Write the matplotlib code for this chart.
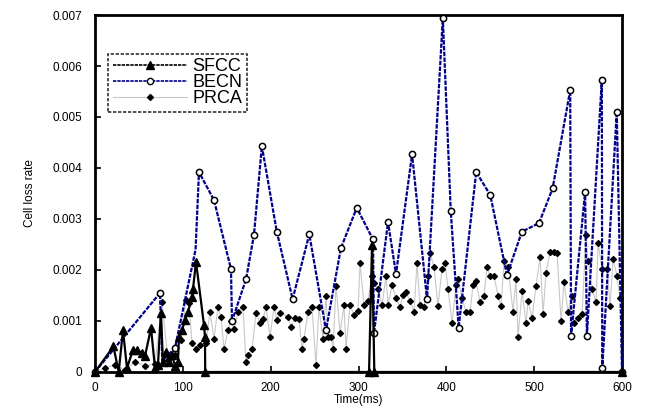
import matplotlib
matplotlib.use("Agg")
import matplotlib.pyplot as plt
from matplotlib.lines import Line2D

plt.rcParams['font.family'] = ['Liberation Sans', 'DejaVu Sans']

# SFCC
sfcc_t = [0, 21, 27, 31.9, 36.4, 43.3, 47.8, 53.5, 56.9, 63.8, 68.3, 71.7, 75.1, 77.4,
          80.8, 84.3, 87.7, 91.1, 94.5, 95.6, 99.1, 102.5, 105.9, 110.4, 111.6, 115.0,
          124.1, 125.2, 125.5, 312, 315.4, 318, 600]
sfcc_v = [0, 0.0005, 0, 0.00082, 0.00008, 0.00043, 0.00043, 0.00037, 0.00031, 0.00086,
          0.00008, 0.00014, 0.00116, 0.0002, 0.0004, 0.0002, 0.00033, 0.00012, 0.0002,
          0.00069, 0.00082, 0.00102, 0.00118, 0.00147, 0.00163, 0.00216, 0.00092, 0.00069,
          0, 0, 0.00249, 0, 0]

# BECN
becn_t = [0, 74.0, 76.6, 91.1, 114.5, 118.4, 135.5, 154.8, 156.0, 172.0, 181.0, 190.0,
          207.0, 225.0, 244.0, 263.0, 280.0, 298.0, 316.5, 317.6, 333.6, 342.7, 361.0,
          378.0, 396.0, 405.0, 414.0, 434.0, 450.0, 469.0, 486.0, 505.5, 521.0, 541.0,
          542.0, 558.0, 560.0, 577.0, 577.5, 594.0, 600.0]
becn_v = [0, 0.00155, 0.00022, 0.00047, 0.0024, 0.00392, 0.00337, 0.00202, 0.001, 0.00182,
          0.00269, 0.00443, 0.00275, 0.00143, 0.0027, 0.00082, 0.00243, 0.00322, 0.0026,
          0.00076, 0.00294, 0.00192, 0.00427, 0.00143, 0.00694, 0.00316, 0.00087, 0.00392,
          0.00347, 0.0019, 0.00275, 0.00292, 0.0036, 0.00553, 0.00071, 0.00353, 0.00071,
          0.00573, 0.00008, 0.0051, 0.0]
becn_hidden = [2, 4]  # points hidden under the SFCC marks

# PRCA
prca_t = [0, 11.4, 22.8, 34.2, 45.5, 56.9, 68.3, 76.3, 83.1, 91.1, 97.9, 103.6, 107.0,
          110.4, 115.0, 119.6, 126.4, 130.9, 135.5, 140.0, 143.5, 146.9, 151.4, 154.8,
          158.3, 162.8, 168.5, 171.9, 174.2, 178.8, 183.3, 187.9, 191.3, 194.7, 199.3,
          203.8, 207.2, 210.6, 219.7, 223.2, 227.7, 232.3, 235.7, 238.0, 242.5, 247.1,
          251.6, 255.0, 259.6, 263.0, 265.3, 268.7, 271.0, 274.4, 279.0, 283.5, 285.8,
          290.3, 294.9, 299.5, 301.7, 306.3, 310.8, 315.4, 317.7, 322.2, 326.8, 331.3,
          333.6, 338.2, 342.7, 347.3, 350.7, 354.1, 358.7, 363.2, 366.6, 370.0, 374.6,
          379.2, 381.4, 386.0, 390.5, 395.1, 398.5, 401.9, 406.5, 411.0, 413.3, 417.9,
          422.4, 427.0, 430.4, 433.8, 438.4, 442.9, 446.3, 449.7, 454.3, 458.9, 462.3,
          465.7, 470.2, 475.9, 479.3, 481.6, 486.2, 490.7, 493.0, 497.6, 502.1, 506.7,
          510.1, 513.5, 518.1, 522.6, 526.0, 530.6, 534.0, 538.6, 543.1, 545.4, 549.9,
          554.5, 559.0, 561.3, 565.9, 570.4, 572.7, 577.3, 583.0, 586.4, 589.8, 594.3,
          597.8]
prca_v = [0, 0.00008, 0.00014, 0.00004, 0.0002, 0.00012, 0.00016, 0.00137, 0.00024,
          0.00033, 0.00063, 0.00141, 0.00135, 0.00057, 0.00045, 0.00053, 0.00057, 0.00118,
          0.00065, 0.00127, 0.00108, 0.00045, 0.00082, 0.001, 0.00084, 0.00118, 0.00127,
          0.0002, 0.00033, 0.00045, 0.00116, 0.00096, 0.00104, 0.00127, 0.00069, 0.00127,
          0.00102, 0.00116, 0.00108, 0.00088, 0.00106, 0.00104, 0.00045, 0.00065, 0.00118,
          0.00127, 0.00014, 0.00127, 0.00065, 0.00149, 0.00069, 0.00069, 0.00045, 0.00169,
          0.00076, 0.00131, 0.00045, 0.00131, 0.00112, 0.0012, 0.00214, 0.00131, 0.00139,
          0.00188, 0.00174, 0.00163, 0.00131, 0.00188, 0.00131, 0.00171, 0.00145, 0.00127,
          0.00151, 0.00157, 0.00139, 0.00118, 0.00214, 0.00131, 0.00127, 0.00188, 0.00233,
          0.00206, 0.00129, 0.00202, 0.00214, 0.00163, 0.00096, 0.00171, 0.00182, 0.00145,
          0.00118, 0.00118, 0.00171, 0.00178, 0.00137, 0.00149, 0.00206, 0.00188, 0.00188,
          0.00149, 0.00129, 0.00218, 0.00206, 0.00118, 0.00182, 0.00069, 0.00159, 0.00096,
          0.00139, 0.00106, 0.00169, 0.00225, 0.00114, 0.00194, 0.00235, 0.00235, 0.00233,
          0.001, 0.00176, 0.00118, 0.00149, 0.00096, 0.00106, 0.00114, 0.00269, 0.00218,
          0.00163, 0.00137, 0.00253, 0.00202, 0.00202, 0.00129, 0.00221, 0.00188, 0.00145]

xticks = [0, 100, 200, 300, 400, 500, 600]
yticks = [0, 0.001, 0.002, 0.003, 0.004, 0.005, 0.006, 0.007]
ytick_labels = ['0', '0.001', '0.002', '0.003', '0.004', '0.005', '0.006', '0.007']

fig = plt.figure(figsize=(6.47, 4.11), dpi=100)
ax = fig.add_axes([0.1468, 0.0949, 0.8146, 0.8686])

ax.plot(prca_t, prca_v, color='#c8c8c8', linewidth=0.8, marker='D', markersize=3,
        markerfacecolor='black', markeredgecolor='black', clip_on=False, zorder=2)
shown = [i for i in range(len(becn_t)) if i not in becn_hidden]
ax.plot(becn_t, becn_v, color='#00008b', linewidth=1.6, linestyle=(0, (2, 0.6)),
        marker='o', markersize=4.5, markerfacecolor='white', markeredgecolor='black',
        markeredgewidth=1.1, markevery=shown, clip_on=False, zorder=3)
ax.plot(sfcc_t, sfcc_v, color='black', linewidth=1.6, marker='^', markersize=6,
        clip_on=False, zorder=4)

ax.set_xlim(0, 600)
ax.set_ylim(0, 0.007)
ax.set_xticks(xticks)
ax.set_yticks(yticks)
ax.set_yticklabels(ytick_labels)
ax.tick_params(direction='in', length=4, width=1.2, labelsize=8.5)
ax.tick_params(axis='y', pad=9)
ax.tick_params(axis='x', pad=7)
for s in ax.spines.values():
    s.set_linewidth(2)
ax.set_xlabel('Time(ms)', fontsize=8.5, labelpad=0)
ax.set_ylabel('Cell loss rate', fontsize=8.5, labelpad=12)

handles = [
    Line2D([], [], color='black', linewidth=1.2, linestyle=(0, (2, 0.6)), marker='^', markersize=6),
    Line2D([], [], color='#00008b', linewidth=1.2, linestyle=(0, (2, 0.6)), marker='o', markersize=4.5,
           markerfacecolor='white', markeredgecolor='black'),
    Line2D([], [], color='#c8c8c8', linewidth=0.8, marker='D', markersize=3,
           markerfacecolor='black', markeredgecolor='black'),
]
leg = ax.legend(handles, ['SFCC', 'BECN', 'PRCA'], loc='upper left',
                bbox_to_anchor=(0.025, 0.892), fontsize=13, frameon=True, fancybox=False,
                borderpad=0.25, labelspacing=-0.05, handlelength=4.1, handletextpad=0.3,
                borderaxespad=0)
leg.get_frame().set_edgecolor('black')
leg.get_frame().set_linestyle((0, (2, 1)))
leg.get_frame().set_linewidth(1.2)

fig.savefig('out.png', dpi=100)
